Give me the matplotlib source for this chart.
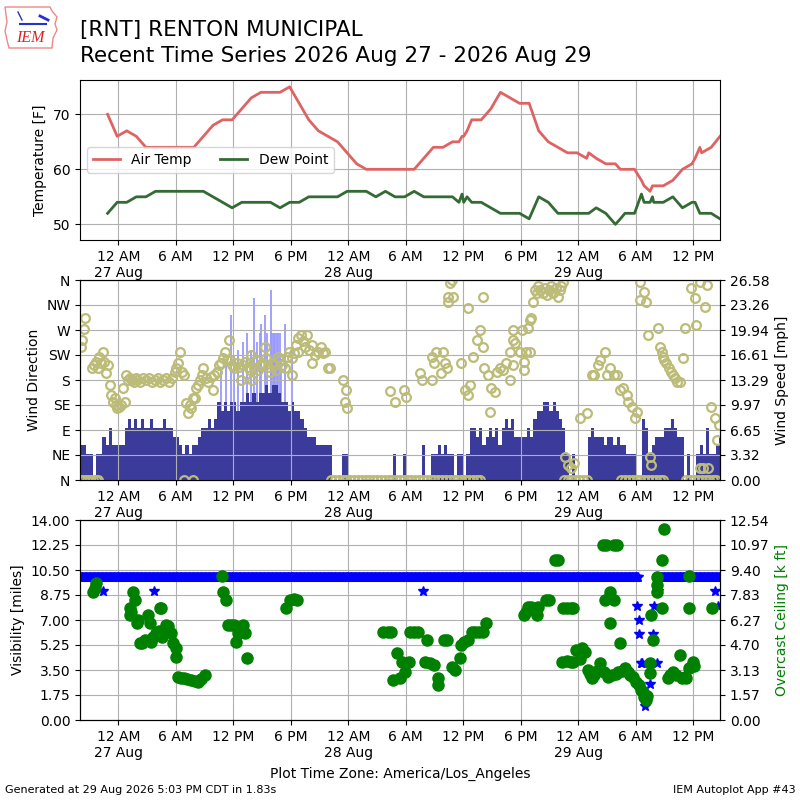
import datetime as dt
import numpy as np
import matplotlib
matplotlib.use("Agg")
import matplotlib.pyplot as plt
import matplotlib.dates as mdates
from matplotlib.patches import Polygon
from matplotlib.ticker import FuncFormatter

# ---------------- data (hours relative to 27 Aug 2026 00:00 local) ----------------
STATION_TITLE = "[RNT] RENTON MUNICIPAL"
SUBTITLE = "Recent Time Series 2026 Aug 27 - 2026 Aug 29"
X_START_H, X_END_H = -4.0, 62.8

# (hour, air temp F, dew point F)
temp_obs = [
    (-1.12, 70, 52), (-0.12, 66, 54), (0.88, 67, 54), (1.88, 66, 55), (2.88, 64, 55),
    (3.88, 64, 56), (4.88, 64, 56), (5.88, 64, 56), (6.88, 64, 56), (7.88, 64, 56),
    (8.88, 66, 56), (9.88, 68, 55), (10.88, 69, 54), (11.88, 69, 53), (12.88, 71, 54),
    (13.88, 73, 54), (14.88, 74, 54), (15.88, 74, 54), (16.88, 74, 53), (17.88, 75, 54),
    (18.88, 72, 54), (19.88, 69, 55), (20.88, 67, 55), (21.88, 66, 55), (22.88, 65, 55),
    (23.88, 63, 56), (24.88, 61, 56), (25.88, 60, 56), (26.88, 60, 55), (27.88, 60, 56),
    (28.88, 60, 55), (29.88, 60, 55), (30.88, 60, 56), (31.88, 62, 55), (32.88, 64, 55),
    (33.88, 64, 55), (34.88, 65, 55), (35.55, 65, 54), (35.88, 66, 55.5), (36.05, 66, 54),
    (36.4, 67, 55), (36.88, 69, 54), (37.88, 69, 54), (38.88, 71, 53), (39.88, 74, 52),
    (40.88, 73, 52), (41.88, 72, 52), (42.88, 72, 51), (43.88, 67, 55), (44.88, 65, 54),
    (45.88, 64, 52), (46.88, 63, 52), (47.88, 63, 52), (48.88, 62, 52), (49.1, 63, 52),
    (49.88, 62, 53), (50.88, 61, 52), (51.88, 61, 50), (52.4, 60, 51), (52.88, 60, 52),
    (53.88, 60, 52), (54.6, 58, 55.5), (54.88, 57, 54), (55.5, 56, 54), (55.75, 57, 55),
    (55.88, 57, 54), (56.88, 57, 54), (57.88, 58, 55), (58.88, 60, 53), (59.88, 61, 54),
    (60.2, 62, 54), (60.7, 64, 52), (60.88, 63, 52), (61.88, 64, 52), (62.8, 66, 51),
]

# sustained wind speed [mph], 20-minute blocks starting at X_START_H
wind_speed = [
    4.6, 4.6, 3.45,  3.45, 0, 3.45,  3.45, 5.75, 4.6,  6.9, 4.6, 4.6,
    4.6, 4.6, 6.9,  8.05, 6.9, 8.05,  6.9, 8.05, 6.9,  6.9, 8.05, 6.9,
    6.9, 6.9, 8.05,  6.9, 6.9, 5.75,  5.75, 4.6, 3.45,  4.6, 3.45, 4.6,
    4.6, 5.75, 6.9,  6.9, 8.05, 6.9,  8.05, 10.36, 9.2,  10.36, 9.2, 10.36,
    10.36, 9.2, 10.36,  10.36, 11.5, 10.36,  11.5, 10.36, 11.5,  11.5, 12.66, 11.5,
    12.66, 12.66, 11.5,  10.36, 10.36, 9.2,  10.36, 9.2, 9.2,  8.05, 6.9, 5.75,
    5.75, 5.75, 4.6,  4.6, 4.6, 4.6,  4.6, 0, 0,  0, 3.45, 3.45,
    0, 0, 0,  0, 0, 0,  0, 0, 0,  0, 0, 0,
    0, 0, 3.45,  0, 0, 3.45,  0, 0, 0,  0, 0, 4.6,
    0, 0, 3.45,  3.45, 4.6, 3.45,  4.6, 3.45, 3.45,  0, 3.45, 3.45,
    0, 3.45, 6.9,  6.9, 5.75, 6.9,  4.6, 5.75, 6.9,  5.75, 6.9, 4.6,
    6.9, 8.05, 6.9,  8.05, 5.75, 5.75,  5.75, 5.75, 6.9,  5.75, 8.05, 9.2,
    9.2, 10.36, 10.36,  9.2, 10.36, 9.2,  8.05, 6.9, 3.45,  0, 3.45, 0,
    0, 0, 0,  5.75, 6.9, 5.75,  5.75, 5.75, 4.6,  5.75, 5.75, 4.6,
    5.75, 4.6, 4.6,  3.45, 3.45, 3.45,  0, 0, 8.05,  6.9, 3.45, 4.6,
    5.75, 5.75, 5.75,  6.9, 6.9, 8.05,  6.9, 5.75, 5.75,  0, 3.45, 0,
    0, 3.45, 4.6,  3.45, 6.9, 3.45,  3.45, 4.6, 5.75,
]

# (hour, gust mph)
gust_obs = [
    (10.7, 14.9), (11.2, 16.1), (11.72, 21.9), (12.1, 16.5), (12.5, 17.3), (13.0, 18.4),
    (13.46, 19.5), (13.8, 17.3), (14.16, 24.2), (14.5, 18.4), (14.76, 19.5), (14.9, 20.7),
    (15.3, 21.9), (15.55, 19.5), (15.9, 25.3), (15.95, 19.5), (16.1, 19.5), (16.2, 19.5),
    (16.4, 19.5), (16.55, 19.5), (16.7, 19.5), (16.85, 19.5), (17.0, 16.1), (17.4, 20.7),
    (18.1, 17.3),
]

# (hour, wind direction deg)
wind_dir_obs = [
    (-3.9, 240), (-3.75, 252), (-3.6, 272), (-3.5, 291),
    (-2.7, 201), (-2.5, 207), (-2.3, 213), (-2.1, 201), (-2.0, 222), (-1.8, 210), (-1.6, 231),
    (-1.5, 213), (-1.25, 192), (-1.07, 207), (-0.9, 171), (-0.73, 153), (-0.55, 141),
    (-0.38, 147), (-0.2, 135), (-0.1, 129), (0.1, 132), (0.3, 135), (0.5, 165), (0.66, 141),
    (0.84, 189), (1.0, 180), (1.2, 183), (1.4, 180), (1.6, 177), (1.8, 183), (2.0, 180),
    (2.3, 177), (2.6, 183), (2.9, 180), (3.2, 183), (3.5, 177), (3.8, 180), (4.1, 183),
    (4.4, 177), (4.7, 180), (5.0, 183), (5.3, 177), (5.6, 183), (5.9, 195), (6.0, 201),
    (6.2, 210), (6.4, 231), (6.6, 195), (6.9, 189), (7.1, 138), (7.3, 120), (7.45, 135),
    (7.6, 129), (7.8, 147), (8.0, 147), (8.1, 165), (8.3, 171), (8.5, 180), (8.7, 189),
    (8.8, 201), (9.1, 183), (9.4, 177), (9.7, 186), (9.9, 162), (10.0, 189), (10.3, 195),
    (10.5, 207), (10.75, 210), (10.9, 219), (11.1, 231), (11.3, 216), (11.6, 252),
    (11.7, 216), (11.9, 207), (12.1, 201), (12.4, 210), (12.6, 204), (12.8, 180), (13.0, 207),
    (13.2, 213), (13.5, 204), (13.7, 198), (13.9, 225), (14.0, 180), (14.2, 201), (14.4, 216),
    (14.6, 198), (14.75, 207), (15.0, 210), (15.3, 240), (15.4, 219), (15.6, 204), (15.8, 195),
    (16.0, 210), (16.3, 207), (16.5, 198), (16.7, 222), (16.9, 216), (17.1, 207), (17.4, 201),
    (17.6, 222), (17.8, 231), (18.1, 219), (18.1, 189), (18.3, 228), (18.5, 243), (18.75, 255),
    (18.8, 231), (19.1, 261), (19.3, 250), (19.5, 240), (19.7, 261), (19.9, 234), (20.2, 243),
    (20.2, 210), (20.5, 225), (20.8, 231), (21.2, 240), (21.4, 228), (21.6, 231), (21.9, 201),
    (22.1, 201), (23.5, 180), (23.7, 141), (23.8, 162), (23.9, 129),
    (28.35, 160), (28.9, 141), (29.85, 162), (30.0, 150), (31.5, 192), (31.7, 180),
    (32.7, 180), (32.7, 222), (33.0, 210), (33.2, 231), (33.7, 192), (33.9, 231), (34.1, 210),
    (34.3, 201), (34.4, 321), (34.45, 330), (34.6, 354), (34.8, 360), (34.9, 330), (35.8, 210),
    (36.2, 162), (36.5, 153), (36.5, 310), (36.7, 171), (37.05, 222), (37.4, 252), (37.7, 270),
    (38.1, 330), (38.1, 240), (38.2, 201), (38.6, 189), (38.8, 123), (38.95, 165), (39.3, 159),
    (39.5, 195), (39.8, 201), (40.2, 198), (40.5, 210), (40.9, 231), (40.9, 180), (41.2, 252),
    (41.2, 270), (41.2, 207), (41.4, 246), (41.9, 231), (42.1, 270), (42.3, 213), (42.3, 198),
    (42.6, 231), (42.8, 273), (42.96, 231), (42.96, 288), (43.1, 291), (43.3, 321), (43.5, 342),
    (43.7, 336), (43.8, 350), (44.0, 342), (44.3, 336), (44.5, 345), (44.7, 333), (45.0, 342),
    (45.2, 350), (45.4, 336), (45.7, 345), (45.9, 330), (46.1, 342), (46.2, 350), (46.4, 357),
    (46.6, 42), (46.96, 27), (47.3, 21), (47.6, 30), (48.2, 111), (48.9, 120), (49.4, 189),
    (49.7, 189), (50.1, 207), (50.3, 216), (50.8, 231), (51.0, 189), (51.3, 201), (51.7, 189),
    (52.0, 189), (52.4, 162), (52.7, 165), (53.1, 153), (53.2, 141), (53.6, 132), (53.9, 111),
    (54.1, 123), (54.4, 357), (54.5, 324), (54.9, 339), (55.1, 321), (55.3, 261), (55.5, 42),
    (55.6, 27), (56.3, 273), (56.5, 240), (56.7, 230), (56.8, 222), (57.0, 216), (57.2, 210),
    (57.5, 201), (57.7, 195), (57.9, 189), (58.1, 183), (58.3, 177), (58.6, 177), (58.96, 219),
    (59.1, 273), (59.8, 345), (60.2, 327), (60.3, 279), (60.7, 357), (60.7, 21), (61.0, 21),
    (61.2, 312), (61.4, 351), (61.5, 21), (61.9, 132), (62.3, 111), (62.45, 72), (62.7, 99),
]

# hours with calm reports (direction plotted as 0 / N)
calm_hours = [
    -3.85, -3.55, -3.25, -2.95, -2.65, -2.35, -2.1, 6.85, 7.8,
    22.2, 22.6, 23.0, 23.4, 23.8, 24.2, 24.6, 25.0, 25.4, 25.8, 26.2, 26.6, 27.0, 27.4,
    27.8, 28.2, 28.6, 29.0, 29.4, 29.8, 30.2, 30.6, 31.0, 31.4, 31.8, 32.2, 32.6, 33.0,
    33.4, 33.8, 34.2, 34.6, 35.0, 35.4, 35.8, 36.2, 36.6, 37.0, 37.4, 37.8,
    46.5, 46.9, 47.3, 47.7, 48.1, 48.5, 48.9,
    52.5, 52.9, 53.3, 53.7, 54.1, 54.5, 54.9, 55.3, 55.7, 56.1, 56.5, 56.9,
    59.3, 59.7, 60.1, 60.5, 60.9, 61.3, 61.7, 62.1, 62.4,
]

# visibility [miles], 5-minute reports starting at X_START_H (gap 54.33-56.25 h)
visibility = [10.0] * 700 + [np.nan] * 24 + [10.0] * 80
# (hour, visibility miles) single reduced reports
vis_special = [
    (-1.6, 9.0), (3.7, 9.0), (31.8, 9.0), (54.1, 8.0), (54.3, 7.0), (54.3, 6.0), (54.6, 4.0),
    (54.7, 4.0), (55.0, 1.0), (55.1, 1.75), (55.5, 2.5), (55.8, 6.0), (55.95, 8.0),
    (56.2, 4.0), (56.35, 9.0), (62.3, 9.0), (62.6, 8.0),
]

# (hour, overcast ceiling k ft)
ceiling_obs = [
    (-2.64, 8.0), (-2.45, 8.3), (-2.3, 8.57),
    (1.19, 7.0), (1.19, 6.58), (1.3, 6.8), (1.53, 8.05), (1.7, 7.5), (1.9, 6.06), (2.1, 6.3),
    (2.23, 4.8), (2.5, 4.85), (2.8, 5.0), (3.1, 6.58), (3.27, 6.06), (3.45, 4.9), (3.6, 5.2),
    (3.97, 5.43), (4.3, 7.0), (4.5, 7.0), (4.2, 5.6), (4.6, 5.2), (5.0, 5.96), (5.2, 5.9),
    (5.5, 5.43), (5.7, 4.8), (6.05, 4.49), (6.0, 3.97), (6.23, 2.72), (6.5, 2.65), (6.9, 2.61),
    (7.2, 2.6), (7.6, 2.5), (8.0, 2.45), (8.3, 2.4), (8.6, 2.6), (9.0, 2.82),
    (10.8, 9.03), (10.9, 8.0), (11.2, 7.52), (11.45, 5.96), (11.8, 5.96), (12.1, 5.96),
    (12.5, 5.43), (12.3, 4.9), (12.6, 5.6), (13.0, 5.96), (13.2, 5.43), (13.4, 3.87),
    (17.5, 7.0), (17.9, 7.52), (18.3, 7.6), (18.7, 7.52),
    (27.65, 5.5), (28.1, 5.5), (28.5, 5.5), (28.7, 2.51), (29.05, 4.18), (29.4, 2.61),
    (29.6, 3.66), (29.95, 3.03), (30.3, 3.66), (30.4, 5.54), (30.9, 5.54), (31.3, 5.54),
    (32.0, 3.66), (32.2, 5.0), (32.5, 3.6), (33.0, 3.45), (33.4, 2.61), (33.4, 2.19),
    (34.0, 5.0), (34.3, 5.0), (34.8, 3.34), (35.1, 3.13), (35.66, 3.87), (35.8, 4.7),
    (36.1, 4.9), (36.5, 5.0), (36.9, 5.5), (37.2, 5.54), (37.6, 5.54), (38.1, 5.54), (38.4, 6.06),
    (42.3, 6.58), (42.5, 6.8), (42.8, 7.1), (43.1, 7.1), (43.7, 6.58), (43.8, 7.1), (44.6, 7.52),
    (44.9, 7.52), (45.6, 10.03), (45.9, 10.03), (46.3, 3.66), (46.4, 7.0), (46.8, 7.0),
    (47.2, 7.0), (47.5, 7.0), (46.8, 3.7), (47.2, 3.66), (47.5, 3.66), (47.8, 4.39),
    (48.4, 4.49), (48.7, 4.28), (48.2, 3.8), (49.05, 3.13), (49.4, 2.61), (49.2, 2.9),
    (49.7, 2.8), (50.0, 3.1), (50.3, 3.55), (50.7, 3.0), (50.6, 11.0), (50.9, 11.0),
    (51.7, 11.0), (52.0, 11.0), (50.8, 7.52), (51.3, 8.05), (51.7, 7.52), (51.3, 6.06),
    (51.1, 2.72), (51.5, 2.8), (51.9, 2.9), (52.4, 4.8), (52.2, 3.03), (52.6, 3.1),
    (52.9, 3.24), (53.2, 3.0), (53.4, 2.82), (53.7, 2.7), (54.0, 2.4), (54.3, 2.2),
    (54.6, 1.9), (54.8, 1.78), (54.9, 1.46), (55.1, 1.25), (55.2, 1.5), (55.5, 3.55),
    (55.5, 2.93), (55.6, 6.58), (55.8, 5.0), (56.2, 8.99), (56.2, 8.46), (56.2, 8.0),
    (56.7, 10.03), (56.7, 7.0), (56.95, 11.95), (57.4, 2.61), (57.6, 2.8), (57.9, 3.03),
    (58.2, 2.8), (58.6, 4.08), (58.8, 2.61), (59.1, 2.7), (59.3, 2.61), (59.6, 3.24),
    (60.0, 3.66), (60.1, 3.4), (59.55, 9.03), (59.6, 7.0), (62.0, 7.0),
]

dir_ticklabels = ["N", "NE", "E", "SE", "S", "SW", "W", "NW", "N"]
speed_ticklabels = ["0.00", "3.32", "6.65", "9.97", "13.29", "16.61", "19.94", "23.26", "26.58"]
vis_ticklabels = ["0.00", "1.75", "3.50", "5.25", "7.00", "8.75", "10.50", "12.25", "14.00"]
ceil_ticklabels = ["0.00", "1.57", "3.13", "4.70", "6.27", "7.83", "9.40", "10.97", "12.54"]

# ---------------- helpers ----------------
T0 = dt.datetime(2026, 8, 27)


def tnum(hours):
    return mdates.date2num([T0 + dt.timedelta(hours=float(h)) for h in hours])


def tick_fmt(x, pos):
    d = mdates.num2date(x)
    if d.hour == 0:
        return "12 AM\n" + d.strftime("%d %b")
    if d.hour == 12:
        return "12 PM"
    return "%d %s" % (d.hour % 12, "AM" if d.hour < 12 else "PM")


def style_time_axis(ax):
    ax.set_xlim(*tnum([X_START_H, X_END_H]))
    ax.xaxis.set_major_locator(mdates.HourLocator(byhour=[0, 6, 12, 18]))
    ax.xaxis.set_major_formatter(FuncFormatter(tick_fmt))


fig = plt.figure(figsize=(8, 8), dpi=100)

# ---------------- header / logo ----------------
fig.text(0.1, 0.9625, STATION_TITLE, fontsize=15.5, va="center", ha="left")
fig.text(0.1, 0.930, SUBTITLE, fontsize=15.5, va="center", ha="left")
iowa_px = [(5, 7), (50, 7), (52, 11), (57, 17), (55, 24), (57, 30), (53, 38), (52, 48),
           (9, 48), (7, 40), (5, 31), (7, 22), (5, 7)]
fig.add_artist(Polygon([(x / 800, 1 - y / 800) for x, y in iowa_px], closed=True,
                       fill=False, ec="#ee8888", lw=1.0, transform=fig.transFigure))
fig.text(30 / 800, 1 - 38 / 800, "IEM", color="#dd2222", fontsize=11.5, style="italic",
         family="Liberation Serif", ha="center", va="center")
fig.add_artist(plt.Line2D([20 / 800, 46 / 800], [1 - 24 / 800, 1 - 24 / 800], color="#2233cc",
                          lw=1.5, transform=fig.transFigure))
fig.add_artist(plt.Line2D([40 / 800, 48 / 800], [1 - 16 / 800, 1 - 20 / 800], color="#2233cc",
                          lw=2.0, transform=fig.transFigure))
fig.add_artist(plt.Line2D([18 / 800, 22 / 800], [1 - 12 / 800, 1 - 20 / 800], color="#2233cc",
                          lw=1.0, transform=fig.transFigure))

# ---------------- temperature panel ----------------
t_hours = [r[0] for r in temp_obs]
air = [r[1] for r in temp_obs]
dew = [r[2] for r in temp_obs]

ax1 = fig.add_axes([0.1, 0.7, 0.8, 0.2])
ax1.plot(tnum(t_hours), air, color="#de6464", lw=2, label="Air Temp")
ax1.plot(tnum(t_hours), dew, color="#346a34", lw=2, label="Dew Point")
ax1.set_ylim(47.15, 76.24)
ax1.set_yticks([50, 60, 70])
ax1.set_ylabel("Temperature [F]")
ax1.grid(True)
ax1.legend(loc="center left", bbox_to_anchor=(0.0, 0.5), ncol=2)
style_time_axis(ax1)

# ---------------- wind panel ----------------
t20 = tnum([X_START_H + i / 3.0 for i in range(len(wind_speed))])

ax_w = fig.add_axes([0.1, 0.4, 0.8, 0.25])
ax_s = ax_w.twinx()
ax_s.vlines(tnum([g[0] for g in gust_obs]), 0, [g[1] for g in gust_obs],
            colors="#9999ff", lw=1.3, zorder=1)
ax_s.bar(t20, wind_speed, width=1 / 72.0, align="edge", color="#3b3b9b", lw=0, zorder=2)
ax_s.set_ylim(0, 26.58)
ax_s.set_yticks(np.linspace(0, 26.58, 9))
ax_s.set_yticklabels(speed_ticklabels)
ax_s.set_ylabel("Wind Speed [mph]")

dir_color = "#bcbc78"
ax_w.plot(tnum([d[0] for d in wind_dir_obs]), [d[1] for d in wind_dir_obs], "o", ls="none",
          mfc="none", mec=dir_color, mew=1.6, ms=6.3)
ax_w.plot(tnum(calm_hours), np.zeros(len(calm_hours)), "o", ls="none",
          mfc="none", mec=dir_color, mew=1.6, ms=6.3)
ax_w.set_ylim(0, 360)
ax_w.set_yticks(range(0, 361, 45))
ax_w.set_yticklabels(dir_ticklabels)
ax_w.set_ylabel("Wind Direction")
ax_w.grid(True)
ax_w.set_zorder(ax_s.get_zorder() + 1)
ax_w.patch.set_visible(False)
style_time_axis(ax_w)

# ---------------- visibility / ceiling panel ----------------
t5 = tnum([X_START_H + i / 12.0 for i in range(len(visibility))])

ax_v = fig.add_axes([0.1, 0.1, 0.8, 0.25])
ax_c = ax_v.twinx()
ax_v.plot(t5, visibility, "*", color="b", ls="none", ms=7)
ax_v.plot(tnum([v[0] for v in vis_special]), [v[1] for v in vis_special], "*", color="b",
          ls="none", ms=7)
ax_v.set_ylim(0, 14)
ax_v.set_yticks(np.linspace(0, 14, 9))
ax_v.set_yticklabels(vis_ticklabels)
ax_v.set_ylabel("Visibility [miles]")
ax_v.grid(True)

ax_c.plot(tnum([c[0] for c in ceiling_obs]), [c[1] for c in ceiling_obs], "o", color="g",
          ls="none", ms=8)
ax_c.set_ylim(0, 12.54)
ax_c.set_yticks(np.linspace(0, 12.54, 9))
ax_c.set_yticklabels(ceil_ticklabels)
ax_c.set_ylabel("Overcast Ceiling [k ft]", color="g")
style_time_axis(ax_v)

# ---------------- footer ----------------
fig.text(0.5, 0.0325, "Plot Time Zone: America/Los_Angeles", ha="center", va="center",
         fontsize=10)
fig.text(0.006, 0.013, "Generated at 29 Aug 2026 5:03 PM CDT in 1.83s", ha="left",
         va="center", fontsize=8)
fig.text(0.994, 0.013, "IEM Autoplot App #43", ha="right", va="center", fontsize=8)

fig.savefig("out.png", dpi=100)
